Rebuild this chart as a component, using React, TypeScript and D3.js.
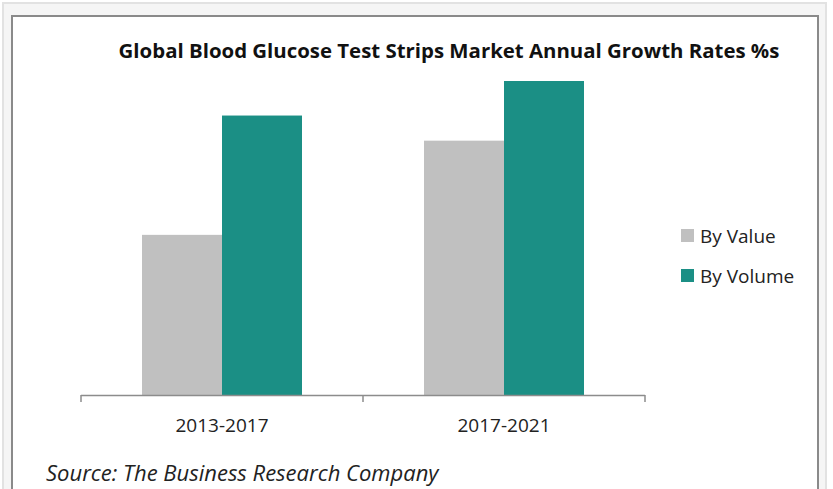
import React, { useEffect, useRef } from "react";
import * as d3 from "d3";

const categories = ["2013-2017", "2017-2021"];
const seriesNames = ["By Value", "By Volume"];
const byValue = [5.1, 8.1];
const byVolume = [8.9, 10.0];
const seriesColors = ["#c0c0c0", "#1b8f85"];

const title = "Global Blood Glucose Test Strips Market Annual Growth Rates %s";
const source = "Source: The Business Research Company";

export default function App() {
  const ref = useRef<SVGSVGElement>(null);

  useEffect(() => {
    const width = 833;
    const height = 489;
    const svg = d3.select(ref.current);
    svg.selectAll("*").remove();
    svg.attr("width", width).attr("height", height);

    const font = "'Open Sans', sans-serif";

    // page background + frame
    svg.append("rect").attr("width", width).attr("height", height).attr("fill", "#ffffff");
    svg
      .append("rect")
      .attr("x", 3)
      .attr("y", 3)
      .attr("width", 823)
      .attr("height", height)
      .attr("fill", "#f5f5f5")
      .attr("stroke", "#e2e2e2")
      .attr("stroke-width", 2);
    svg
      .append("rect")
      .attr("x", 12)
      .attr("y", 16)
      .attr("width", 806)
      .attr("height", height)
      .attr("fill", "#ffffff")
      .attr("stroke", "#8a8a8a")
      .attr("stroke-width", 2);

    svg
      .append("text")
      .attr("x", 449)
      .attr("y", 58)
      .attr("text-anchor", "middle")
      .attr("font-family", font)
      .attr("font-weight", "bold")
      .attr("font-size", 20.4)
      .attr("fill", "#111")
      .text(title);

    const margin = { left: 81, right: 645, top: 81, bottom: 395 };

    const x0 = d3.scaleBand().domain(categories).range([margin.left, margin.right]);
    const x1 = d3
      .scaleBand()
      .domain(seriesNames)
      .range([0, x0.bandwidth()])
      .paddingInner(0)
      .paddingOuter(0.7625);
    const y = d3.scaleLinear().domain([0, 10]).range([margin.bottom, margin.top]);

    const rows = categories.map((c, i) => ({ cat: c, vals: [byValue[i], byVolume[i]] }));

    const groups = svg
      .selectAll("g.group")
      .data(rows)
      .enter()
      .append("g")
      .attr("class", "group")
      .attr("transform", (d) => `translate(${x0(d.cat)},0)`);

    groups
      .selectAll("rect")
      .data((d) => d.vals.map((v, j) => ({ name: seriesNames[j], v, j })))
      .enter()
      .append("rect")
      .attr("x", (d) => x1(d.name)!)
      .attr("y", (d) => y(d.v))
      .attr("width", x1.bandwidth())
      .attr("height", (d) => y(0) - y(d.v))
      .attr("fill", (d) => seriesColors[d.j]);

    // x axis
    const gx = svg
      .append("g")
      .attr("transform", `translate(0,${margin.bottom})`)
      .call(d3.axisBottom(x0).tickSize(0).tickSizeOuter(0));
    gx.select(".domain").remove();
    gx.selectAll(".tick line").remove();
    gx.selectAll("text")
      .attr("font-family", font)
      .attr("font-size", 19)
      .attr("fill", "#222")
      .attr("dy", 0)
      .attr("y", 37);

    const tickXs = [margin.left, ...categories.map((c) => x0(c)! + x0.bandwidth())];
    gx.append("line")
      .attr("x1", margin.left)
      .attr("x2", margin.right)
      .attr("y1", 0.5)
      .attr("y2", 0.5)
      .attr("stroke", "#8c8c8c")
      .attr("stroke-width", 1.5);
    gx.selectAll("line.tk")
      .data(tickXs)
      .enter()
      .append("line")
      .attr("class", "tk")
      .attr("x1", (d) => d)
      .attr("x2", (d) => d)
      .attr("y1", 0)
      .attr("y2", 7)
      .attr("stroke", "#8c8c8c")
      .attr("stroke-width", 1.5);

    // legend
    const legend = svg
      .selectAll("g.legend")
      .data(seriesNames)
      .enter()
      .append("g")
      .attr("class", "legend")
      .attr("transform", (d, i) => `translate(681,${229 + i * 40})`);
    legend
      .append("rect")
      .attr("width", 13)
      .attr("height", 13)
      .attr("fill", (d, i) => seriesColors[i]);
    legend
      .append("text")
      .attr("x", 19)
      .attr("y", 14)
      .attr("font-family", font)
      .attr("font-size", 19)
      .attr("fill", "#222")
      .text((d) => d);

    svg
      .append("text")
      .attr("x", 46)
      .attr("y", 481)
      .attr("font-family", font)
      .attr("font-style", "italic")
      .attr("font-size", 22)
      .attr("fill", "#222")
      .text(source);
  }, []);

  return <svg ref={ref} style={{ position: "absolute", left: 0, top: 0 }}></svg>;
}
